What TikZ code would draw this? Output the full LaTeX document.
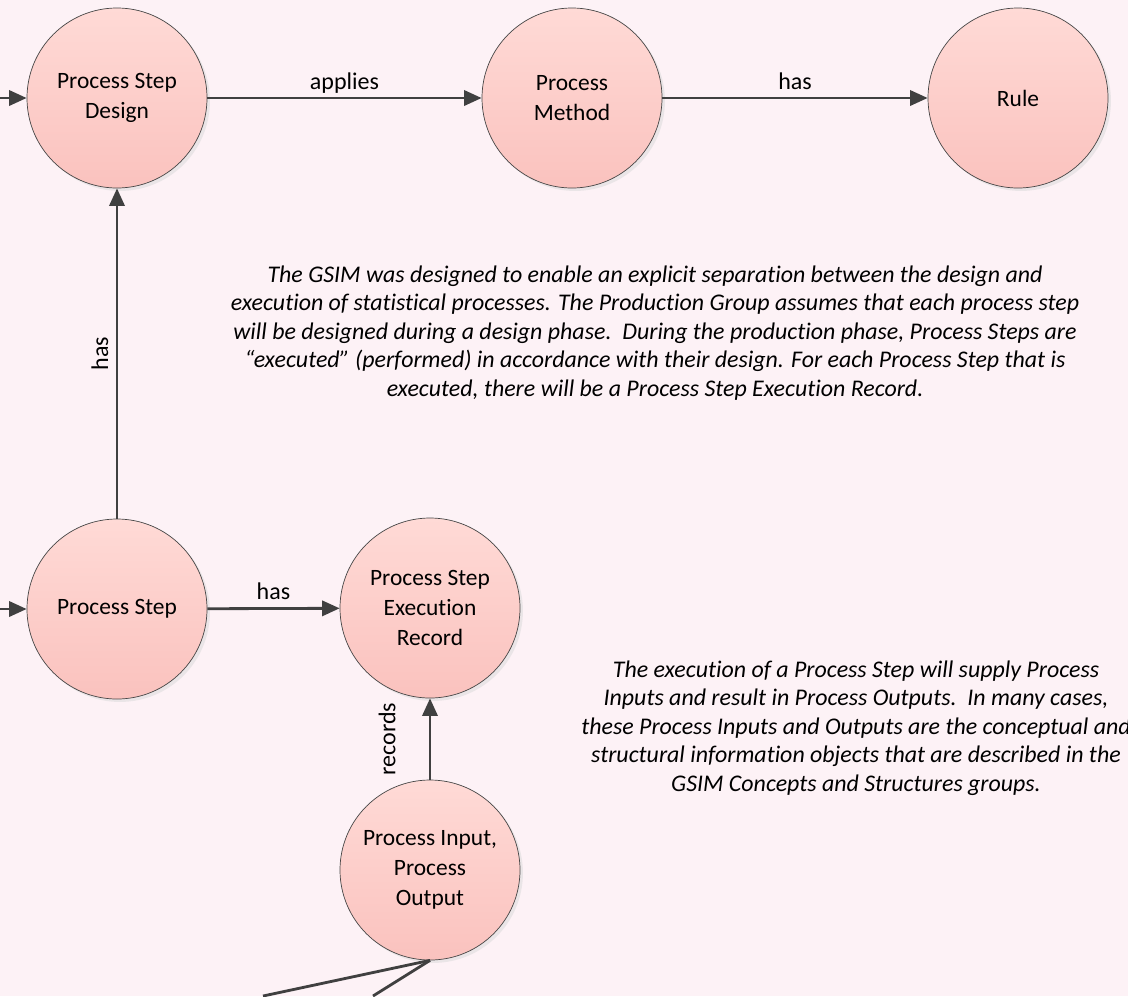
\documentclass[tikz,border=0pt]{standalone}
\usepackage{fontspec}
\setmainfont{Carlito}[Ligatures=NoCommon]
\usetikzlibrary{arrows.meta,positioning,shadows}
\definecolor{gsbg}{RGB}{253,242,246}
\definecolor{gstop}{RGB}{255,218,214}
\definecolor{gsbot}{RGB}{250,194,190}
\definecolor{gsedge}{RGB}{70,70,70}
\definecolor{gsline}{RGB}{64,64,64}

\begin{document}
\begin{tikzpicture}[x=0.03cm, y=-0.03cm,
  entity/.style={circle, draw=gsedge, line width=0.6pt,
    top color=gstop, bottom color=gsbot, minimum size=5.4cm, inner sep=0pt,
    align=center, font=\fontsize{20}{25.5}\selectfont,
    drop shadow={shadow xshift=2.5pt, shadow yshift=-2.5pt, fill=black!15}},
  rel/.style={draw=gsline, line width=2.4pt, -{Triangle[length=15pt,width=13pt]}},
  lbl/.style={font=\fontsize{20.5}{24}\selectfont, inner sep=4pt,
    text height=1.6ex, text depth=.5ex},
  note/.style={align=center, font=\itshape\fontsize{20.4}{24.4}\selectfont}]
% Background
\useasboundingbox (0,0) rectangle (1128,996);
\fill[gsbg] (0,0) rectangle (1128,996);
\clip (0,0) rectangle (1128,996);
% Design side
\node[entity] (psd) at (117,98) {Process Step\\Design};
\node[entity] (pmethod) at (572,98) {Process\\Method};
\node[entity] (rule) at (1018,98) {Rule};
% Execution side
\node[entity] (pstep) at (117,609) {Process Step};
\node[entity] (pser) at (430,608) {Process Step\\Execution\\Record};
\node[entity] (pio) at (430,870) {Process Input,\\Process\\Output};
% Free ends
\coordinate (in1) at (0,98);
\coordinate (in2) at (0,609);
\coordinate (out1) at (263,996);
\coordinate (out2) at (373,996);
% Connectors
\draw[rel] (in1) -- (psd);
\draw[rel] (in2) -- (pstep);
\draw[rel] (psd) -- node[lbl, above] {applies} (pmethod);
\draw[rel] (pmethod) -- node[lbl, above] {has} (rule);
\draw[rel] (pstep) -- node[lbl, sloped, above] {has} (psd);
\draw[rel] (pstep) -- node[lbl, above] {has} (pser);
\draw[rel] (pio) -- node[lbl, sloped, above=22pt] {records} (pser);
\draw[gsline, line width=2.4pt] (pio.south) -- (out1);
\draw[gsline, line width=2.4pt] (pio.south) -- (out2);
% Notes
\node[note] (note1) at (655,333) {The GSIM was designed to enable an explicit separation between the design and\\
execution of statistical processes. The Production Group assumes that each process step\\
will be designed during a design phase.\ \ During the production phase, Process Steps are\\
“executed” (performed) in accordance with their design. For each Process Step that is\\
executed, there will be a Process Step Execution Record.};
\node[note] (note2) at (856,728) {The execution of a Process Step will supply Process\\
Inputs and result in Process Outputs.\ \ In many cases,\\
these Process Inputs and Outputs are the conceptual and\\
structural information objects that are described in the\\
GSIM Concepts and Structures groups.};
\end{tikzpicture}
\end{document}
